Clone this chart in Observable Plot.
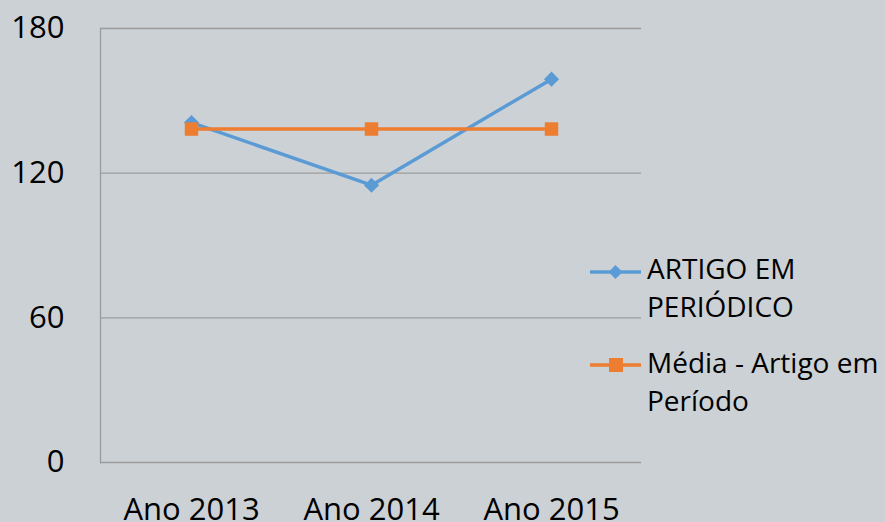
<!DOCTYPE html>
<html>
<head>
<meta charset="utf-8">
<script src="https://cdn.jsdelivr.net/npm/d3@7"></script>
<script src="https://cdn.jsdelivr.net/npm/@observablehq/plot@0.6"></script>
<style>
  html, body { margin: 0; padding: 0; background: #CCD1D5; }
  #wrap { position: relative; width: 885px; height: 522px; overflow: hidden; font-family: "Open Sans", sans-serif; }
  .leg { position: absolute; left: 590px; width: 295px; }
  .leg svg { position: absolute; left: 0; }
  .leg .txt { position: absolute; left: 57px; width: 238px; font-size: 28px; line-height: 38px; color: #000; }
</style>
</head>
<body>
<div id="wrap"></div>
<script>
const years = ["Ano 2013", "Ano 2014", "Ano 2015"];
const artigo = [141, 115, 159];
const media = [138.3, 138.3, 138.3];
const yTicks = [0, 60, 120, 180];
const seriesNames = ["ARTIGO EM PERIÓDICO", "Média - Artigo em Período"];
const colors = ["#5B9BD5", "#ED7D31"];

const dA = years.map((x, i) => ({x, y: artigo[i]}));
const dM = years.map((x, i) => ({x, y: media[i]}));

const chart = Plot.plot({
  width: 885,
  height: 522,
  marginLeft: 100,
  marginRight: 244,
  marginTop: 28,
  marginBottom: 60,
  style: {background: "#CCD1D5", fontFamily: "Open Sans", fontSize: "31px", color: "#000", overflow: "visible"},
  x: {type: "point", domain: years, padding: 0.5, label: null},
  y: {domain: [0, 180], label: null},
  marks: [
    Plot.ruleY(yTicks, {stroke: "#9C9C9C", strokeWidth: 1.3}),
    Plot.frame({anchor: "left", stroke: "#9C9C9C", strokeWidth: 1.3}),
    Plot.axisY(yTicks, {tickSize: 0, tickPadding: 36, fontSize: 31, label: null}),
    Plot.axisX({tickSize: 0, tickPadding: 35, fontSize: 31, label: null}),
    Plot.line(dA, {x: "x", y: "y", stroke: colors[0], strokeWidth: 3.5}),
    Plot.dot(dA, {x: "x", y: "y", symbol: "diamond2", r: 6.8, fill: colors[0], stroke: "none"}),
    Plot.line(dM, {x: "x", y: "y", stroke: colors[1], strokeWidth: 3.5}),
    Plot.dot(dM, {x: "x", y: "y", symbol: "square", r: 7.6, fill: colors[1], stroke: "none"})
  ]
});
const wrap = document.getElementById("wrap");
wrap.appendChild(chart);

// Legend (right side)
const legTops = [249, 343];
const markerOffsets = [23, 22];
seriesNames.forEach((name, i) => {
  const g = document.createElement("div");
  g.className = "leg";
  g.style.top = legTops[i] + "px";
  const my = markerOffsets[i];
  const marker = i === 0
    ? `<path d="M25.5,${my-7} L32.5,${my} L25.5,${my+7} L18.5,${my} Z" fill="${colors[i]}"/>`
    : `<rect x="19" y="${my-7}" width="14" height="14" fill="${colors[i]}"/>`;
  g.innerHTML = `<svg width="52" height="60" style="top:0"><line x1="0" x2="51" y1="${my}" y2="${my}" stroke="${colors[i]}" stroke-width="3.5"/>${marker}</svg><div class="txt">${name}</div>`;
  wrap.appendChild(g);
});
</script>
</body>
</html>
